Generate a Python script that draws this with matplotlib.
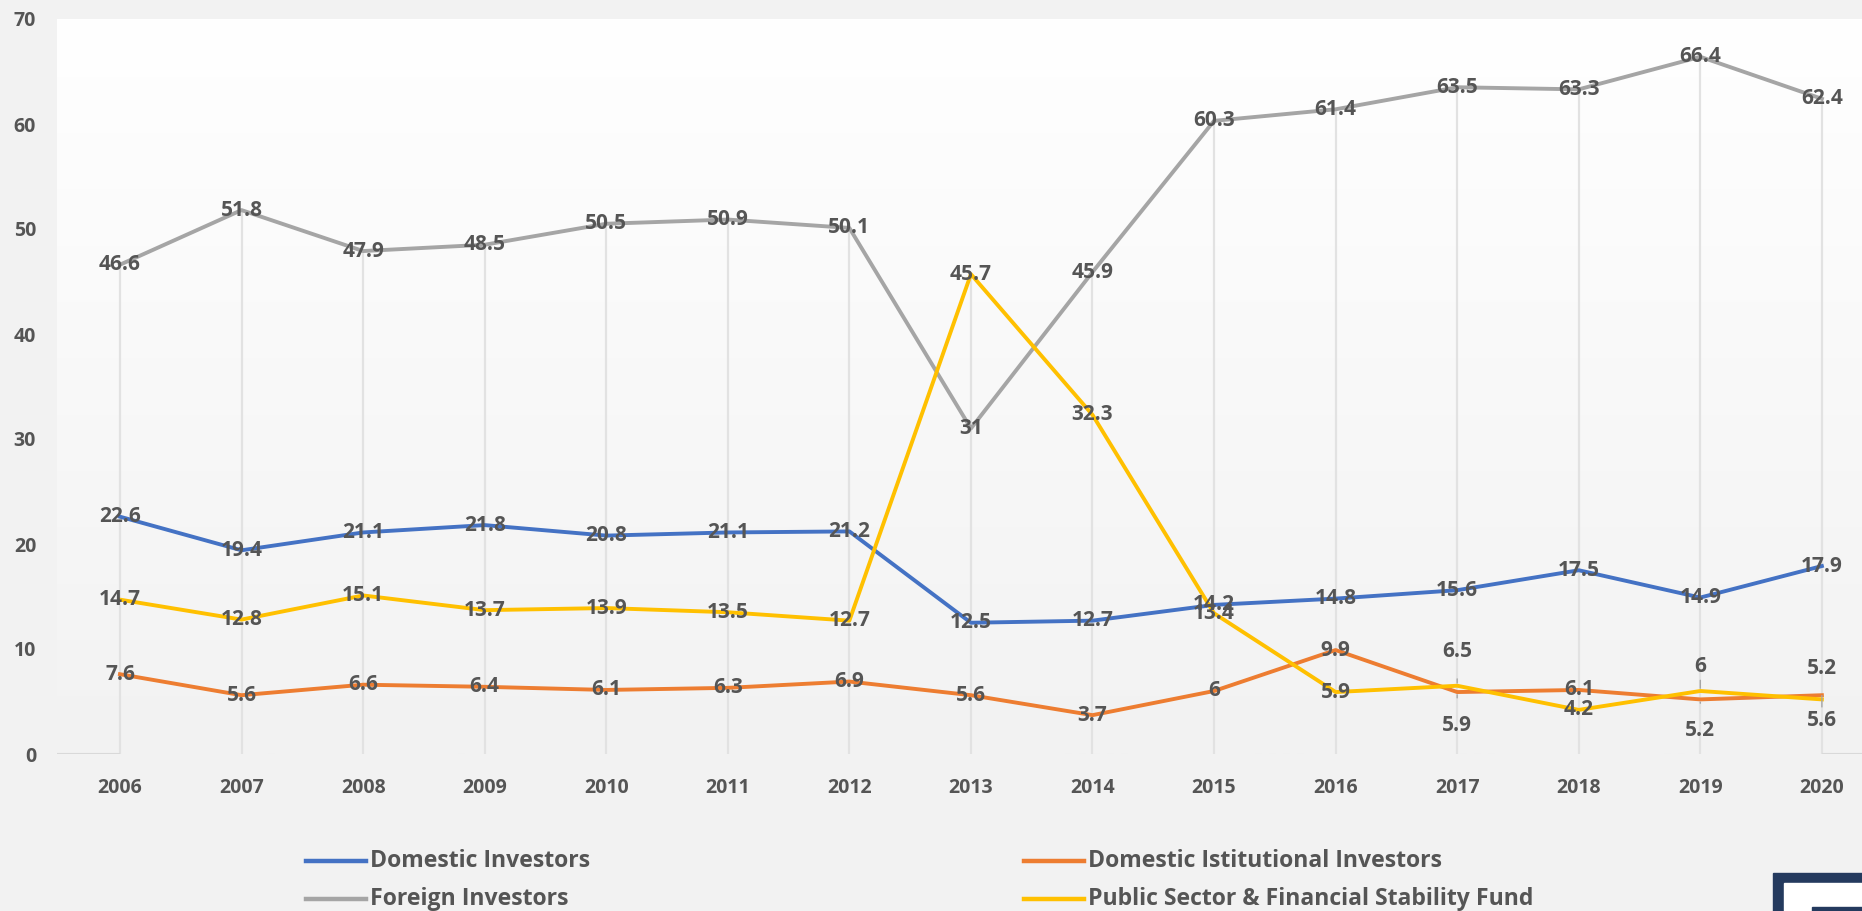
import numpy as np
import matplotlib
matplotlib.use("Agg")
import matplotlib.pyplot as plt
from matplotlib.lines import Line2D
from matplotlib.patches import Rectangle

plt.rcParams['font.family'] = ['Open Sans', 'DejaVu Sans']

years = ['2006', '2007', '2008', '2009', '2010', '2011', '2012', '2013',
         '2014', '2015', '2016', '2017', '2018', '2019', '2020']

domestic = [22.6, 19.4, 21.1, 21.8, 20.8, 21.1, 21.2, 12.5, 12.7, 14.2,
            14.8, 15.6, 17.5, 14.9, 17.9]
institutional = [7.6, 5.6, 6.6, 6.4, 6.1, 6.3, 6.9, 5.6, 3.7, 6,
                 9.9, 5.9, 6.1, 5.2, 5.6]
foreign = [46.6, 51.8, 47.9, 48.5, 50.5, 50.9, 50.1, 31, 45.9, 60.3,
           61.4, 63.5, 63.3, 66.4, 62.4]
public = [14.7, 12.8, 15.1, 13.7, 13.9, 13.5, 12.7, 45.7, 32.3, 13.4,
          5.9, 6.5, 4.2, 6, 5.2]

series_names = ['Domestic Investors', 'Domestic Istitutional Investors',
                'Foreign Investors', 'Public Sector & Financial Stability Fund']
series_values = [domestic, institutional, foreign, public]
colors = ['#4472C4', '#ED7D31', '#A5A5A5', '#FFC000']

TEXT = '#555555'
BG = '#F2F2F2'

W, H = 1862, 911
fig = plt.figure(figsize=(W / 100, H / 100), dpi=100, facecolor=BG)
ax = fig.add_axes([57 / W, (H - 754) / H, (W - 57) / W, (754 - 19) / H])
ax.set_facecolor(BG)

x = np.arange(len(years))
xlo, xhi = -0.518, 14.33
ax.set_xlim(xlo, xhi)
ax.set_ylim(0, 70)

# vertical gradient behind the plot: white at the top fading to the page grey
grad = np.linspace(1.0, 0.0, 256).reshape(-1, 1)
top = np.array([1.0, 1.0, 1.0])
bot = np.array([0xF2, 0xF2, 0xF2]) / 255
img = top * grad[..., None] + bot * (1 - grad[..., None])
ax.imshow(img, extent=(xlo, xhi, 0, 70), aspect='auto', zorder=0,
          interpolation='bilinear')

# drop lines from the highest value down to the axis
highs = np.max(np.array(series_values), axis=0)
ax.vlines(x, 0, highs, color='#E2E2E2', lw=1.6, zorder=1)
ax.hlines(0, xlo, 0, color='#D9D9D9', lw=1.5, zorder=1)
ax.hlines(0, 14, xhi, color='#D9D9D9', lw=1.5, zorder=1)

for vals, c in zip(series_values, colors):
    ax.plot(x, vals, color=c, lw=2.8, solid_joinstyle='round', zorder=3)

# label offsets (pixels) where neighbouring labels would collide
offsets = {
    (1, 11): -33, (3, 11): 34,
    (1, 13): -31, (3, 13): 24,
    (1, 14): -25, (3, 14): 31,
}
LABEL_SIZE = 15
for si, vals in enumerate(series_values):
    for i, v in enumerate(vals):
        dy = offsets.get((si, i), 0)
        txt = f'{v:g}'
        if dy:
            ax.annotate(txt, (x[i], v), xytext=(0, dy), textcoords='offset pixels',
                        ha='center', va='center', fontsize=LABEL_SIZE,
                        fontweight='bold', color=TEXT, zorder=5,
                        arrowprops=dict(arrowstyle='-', color='#A6A6A6', lw=1,
                                        shrinkA=10, shrinkB=2))
        else:
            ax.text(x[i], v, txt, ha='center', va='center', fontsize=LABEL_SIZE,
                    fontweight='bold', color=TEXT, zorder=5)

ax.set_xticks(x)
ax.set_xticklabels(years)
ax.set_yticks(np.arange(0, 71, 10))
ax.tick_params(axis='both', length=0, labelsize=14, labelcolor=TEXT)
ax.tick_params(axis='x', pad=17)
ax.tick_params(axis='y', pad=15)
for lab in ax.get_xticklabels() + ax.get_yticklabels():
    lab.set_fontweight('bold')
for s in ax.spines.values():
    s.set_visible(False)

# legend, two columns under the plot
legend_pos = [(306, 861), (1024, 861), (306, 899), (1024, 899)]
for k, (px, py) in enumerate(legend_pos):
    fy = (H - py) / H
    fig.add_artist(Line2D([px / W, (px + 60) / W], [fy, fy], color=colors[k],
                          lw=3.2, transform=fig.transFigure))
    fig.text((px + 64) / W, fy, series_names[k], ha='left', va='center',
             fontsize=16.6, fontweight='bold', color=TEXT)

# corner badge
fig.add_artist(Rectangle((1773 / W, 0), (W - 1773) / W, (H - 873) / H,
                         transform=fig.transFigure, color='#243A5E', zorder=10))
fig.add_artist(Rectangle((1784 / W, 0), (W - 1784) / W, (H - 883) / H,
                         transform=fig.transFigure, color='white', zorder=11))
fig.add_artist(Rectangle((1812 / W, 0), (W - 1812) / W, (H - 907) / H,
                         transform=fig.transFigure, color='#243A5E', zorder=12))

fig.savefig('out.png', dpi=100, facecolor=BG)
